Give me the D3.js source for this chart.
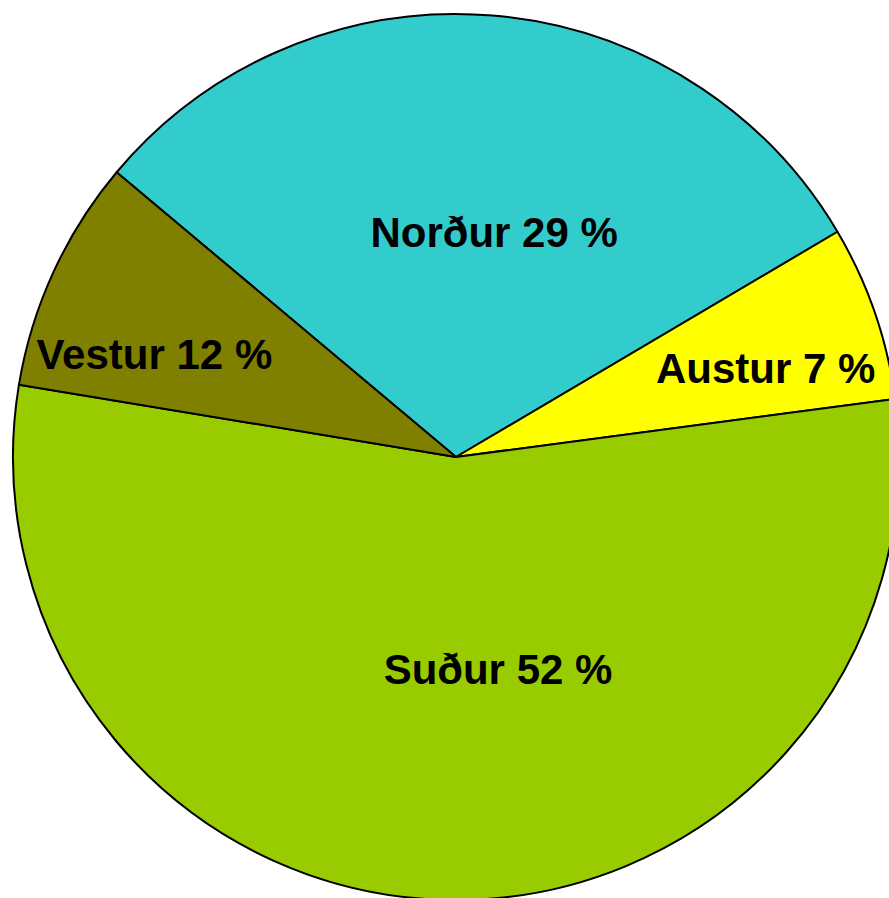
<!DOCTYPE html>
<html>
<head>
<meta charset="utf-8">
<script src="https://cdn.jsdelivr.net/npm/d3@7.9.0/dist/d3.min.js"></script>
<style>
  html, body { margin: 0; padding: 0; background: #fff; overflow: hidden; }
  svg { display: block; }
  .label { font-family: 'Liberation Sans', Arial, sans-serif; font-weight: bold; font-size: 42px; fill: #000; }
</style>
</head>
<body>
<div id="chart"></div>
<script>
// regions, clockwise from the top-left edge of Norður
const regions = ['Norður', 'Austur', 'Suður', 'Vestur'];
// slice sizes as drawn (share of the circle)
const shares = [30.4, 6.4, 54.7, 8.5];
// percentages printed on the labels
const percentLabels = [29, 7, 52, 12];
const colors = ['#33CCCC', '#FFFF00', '#99CC00', '#808000'];

const width = 889;
const height = 898;
const cx = 456;
const cy = 457;
const radius = 443;

const svg = d3.select('#chart')
  .append('svg')
  .attr('width', width)
  .attr('height', height);

const data = regions.map((name, i) => ({
  name,
  share: shares[i],
  pct: percentLabels[i],
  color: colors[i],
}));

const pie = d3.pie()
  .sort(null)
  .value((d) => d.share)
  .startAngle(-50 * Math.PI / 180)
  .endAngle(310 * Math.PI / 180);

const arc = d3.arc().innerRadius(0).outerRadius(radius);
const labelArc = d3.arc().innerRadius(244).outerRadius(244);

const g = svg.append('g').attr('transform', `translate(${cx},${cy})`);

const arcs = pie(data);

g.selectAll('path')
  .data(arcs)
  .join('path')
  .attr('d', arc)
  .attr('fill', (d) => d.data.color)
  .attr('stroke', '#000')
  .attr('stroke-width', 2)
  .attr('stroke-linejoin', 'round');

// hand nudges so labels sit where the original put them
const nudge = [[18, 18], [79, -10], [46, -32], [-80, -1]];

g.selectAll('text')
  .data(arcs)
  .join('text')
  .attr('class', 'label')
  .attr('text-anchor', 'middle')
  .attr('x', (d, i) => labelArc.centroid(d)[0] + nudge[i][0])
  .attr('y', (d, i) => labelArc.centroid(d)[1] + nudge[i][1])
  .attr('dy', '0.36em')
  .text((d) => `${d.data.name} ${d.data.pct} %`);
</script>
</body>
</html>
